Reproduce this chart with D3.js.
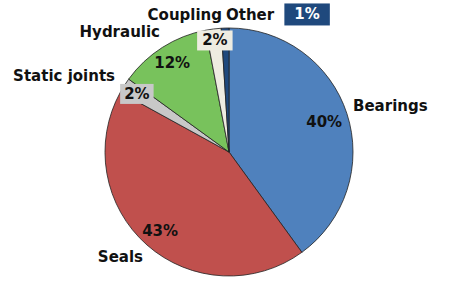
<!DOCTYPE html>
<html>
<head>
<meta charset="utf-8">
<script src="https://cdn.jsdelivr.net/npm/d3@7"></script>
<style>
  body { margin: 0; background: #fff; }
  svg { display: block; }
</style>
</head>
<body>
<svg id="chart"></svg>
<script>
// Chart data
const categories = ["Bearings", "Seals", "Static joints", "Hydraulic", "Coupling", "Other"];
const shares = [40, 43, 2, 12, 2, 1];
const colors = ["#4f81bd", "#c0504d", "#c8c8c8", "#78c25c", "#eeece1", "#1f497d"];

const width = 450;
const height = 286;
const cx = 229, cy = 152, radius = 124;

const svg = d3.select("#chart")
    .attr("width", width)
    .attr("height", height);

const pie = d3.pie().sort(null).value(d => d);
const arcs = pie(shares);

const arc = d3.arc().innerRadius(0).outerRadius(radius);

const g = svg.append("g").attr("transform", `translate(${cx},${cy})`);

g.selectAll("path")
    .data(arcs)
    .join("path")
    .attr("d", arc)
    .attr("fill", (d, i) => colors[i])
    .attr("stroke", "#222")
    .attr("stroke-width", 0.8);

// label placement: radius factor for the value label, tweaks for the name label
const valueR = [0.79, 0.84, 0.88, 0.855, 0.91, 1.0];
const valueShift = [[2, 0], [0, 0], [0, 0], [0, 0], [0, 0], [82, -14]];
const boxPad = [null, null, [4, 2], null, [5, 2], [10, 3]];
const nameAnchor = ["start", "end", "end", "end", "end", "start"];
const nameShift = [[124, -46], [-86, 105], [-114, -76], [-69, -120], [-7, -137], [-3, -137]];

const font = "'DejaVu Sans', Verdana, sans-serif";

arcs.forEach((d, i) => {
  const a = (d.startAngle + d.endAngle) / 2;
  const r = radius * valueR[i];
  const x = Math.sin(a) * r + valueShift[i][0];
  const y = -Math.cos(a) * r + valueShift[i][1];

  const t = g.append("text")
      .attr("x", x)
      .attr("y", y)
      .attr("dy", "0.36em")
      .attr("text-anchor", "middle")
      .style("font", `bold 15px ${font}`)
      .attr("fill", i === 5 ? "#fff" : "#111")
      .text(`${shares[i]}%`);

  if (boxPad[i]) {
    const b = t.node().getBBox();
    g.insert("rect", () => t.node())
        .attr("x", b.x - boxPad[i][0])
        .attr("y", b.y - boxPad[i][1] + 1)
        .attr("width", b.width + boxPad[i][0] * 2)
        .attr("height", b.height + boxPad[i][1] * 2 - 2)
        .attr("fill", colors[i]);
  }

  g.append("text")
      .attr("x", nameShift[i][0])
      .attr("y", nameShift[i][1])
      .attr("dy", "0.36em")
      .attr("text-anchor", nameAnchor[i])
      .style("font", `bold 15px ${font}`)
      .attr("fill", "#111")
      .text(categories[i]);
});
</script>
</body>
</html>
